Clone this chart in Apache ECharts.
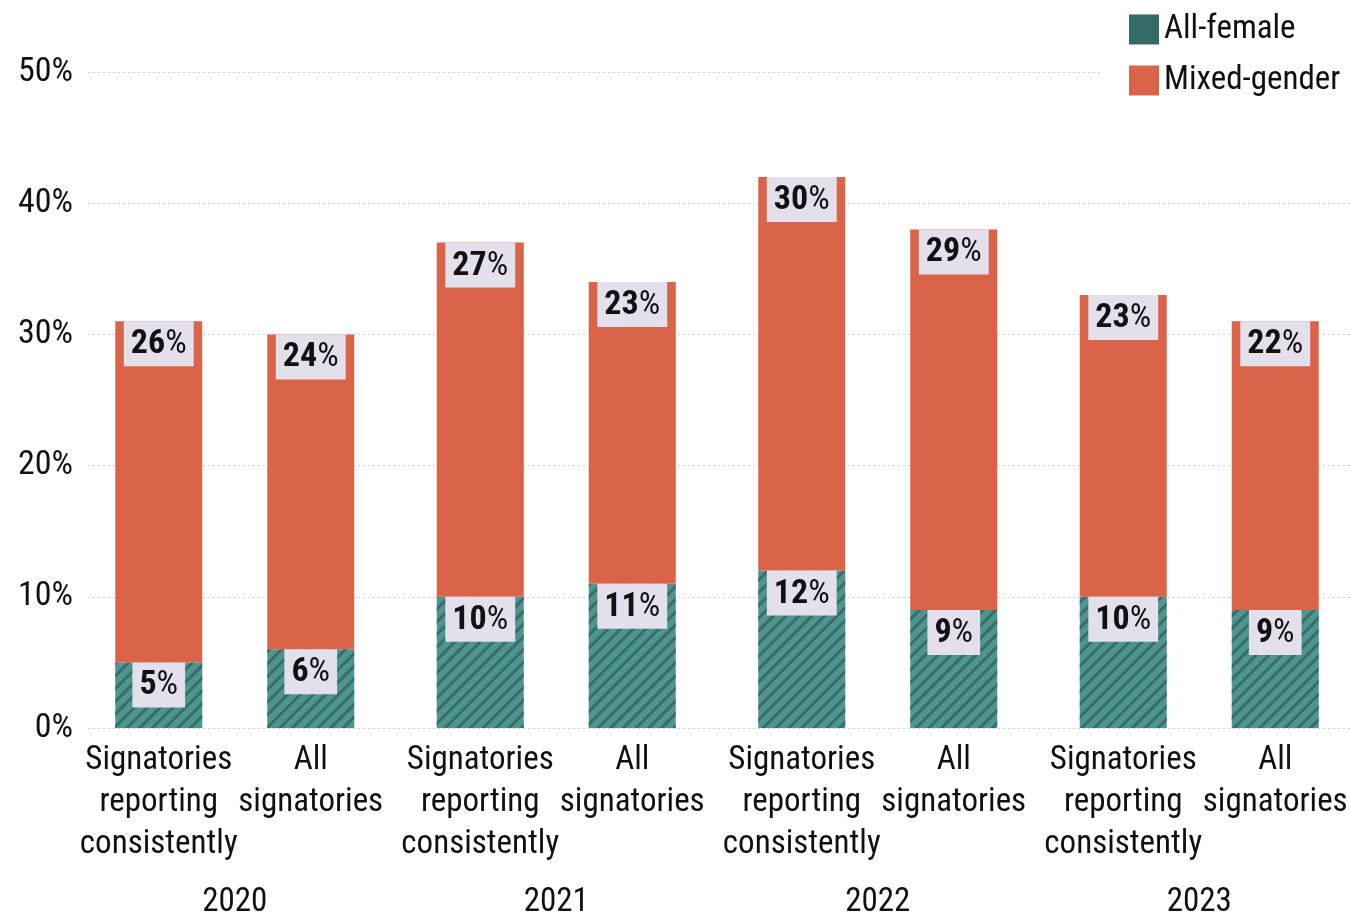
<!DOCTYPE html>
<html>
<head>
<meta charset="utf-8">
<script src="https://cdn.jsdelivr.net/npm/echarts@6/dist/echarts.min.js"></script>
<style>
  html, body { margin: 0; padding: 0; background: #fff; }
  #chart { width: 1350px; height: 915px; }
</style>
</head>
<body>
<div id="chart"></div>
<script>
// Share of signatories (%) by year and reporting group
const years = ['2020', '2021', '2022', '2023'];
const groupLabels = ['Signatories\nreporting\nconsistently', 'All\nsignatories'];
const femaleConsistent = [5, 10, 12, 10];
const mixedConsistent = [26, 27, 30, 23];
const femaleAll = [6, 11, 9, 9];
const mixedAll = [24, 23, 29, 22];
const yTicks = [0, 10, 20, 30, 40, 50];

const FONT = "'Liberation Sans Narrow', 'Arial Narrow', 'Roboto Condensed', Roboto, sans-serif";
const ORANGE = '#da644a';
const TEAL = '#4c9690';
const TEAL_DARK = '#356b66';
const STRIPE = '#3d6c68';

// diagonal "/" stripes over the all-female segments
const hatch = {
  symbol: 'rect',
  color: STRIPE,
  dashArrayX: [1, 0],
  dashArrayY: [3, 6],
  rotation: -Math.PI / 4
};

const valueLabel = {
  show: true,
  position: 'insideTop',
  distance: 0,
  backgroundColor: '#e3e0ec',
  padding: [5, 7, 3, 7],
  color: '#111',
  fontFamily: FONT,
  formatter: p => `{b|${p.value}}{p|%}`,
  rich: {
    b: { fontWeight: 'bold', fontSize: 34, fontFamily: FONT, color: '#111', lineHeight: 37 },
    p: { fontSize: 34, fontFamily: FONT, color: '#111', lineHeight: 37 }
  }
};

function groupLabelSeries(stack, text) {
  return {
    name: 'label-' + stack,
    type: 'bar',
    stack: stack,
    xAxisIndex: 1,
    yAxisIndex: 1,
    barWidth: 87,
    barGap: '74.7%',
    silent: true,
    itemStyle: { color: 'transparent' },
    data: years.map(() => 0),
    label: {
      show: true,
      position: 'bottom',
      distance: 12,
      formatter: text,
      fontFamily: FONT,
      fontSize: 33,
      lineHeight: 42,
      color: '#111',
      align: 'center'
    }
  };
}

function stackSeries(name, stack, values, style) {
  return {
    name: name,
    type: 'bar',
    stack: stack,
    xAxisIndex: 1,
    yAxisIndex: 1,
    barWidth: 87,
    barGap: '74.7%',
    itemStyle: style,
    label: valueLabel,
    data: values
  };
}

const chart = echarts.init(document.getElementById('chart'), null, { renderer: 'canvas' });

chart.setOption({
  animation: false,
  backgroundColor: '#fff',
  textStyle: { fontFamily: FONT },
  grid: [
    { left: 88, right: 0, top: 72, bottom: 187, outerBoundsMode: 'none' },
    { left: 74, width: 1286, top: 72, bottom: 187, outerBoundsMode: 'none' }
  ],
  legend: {
    orient: 'vertical',
    left: 1100,
    top: 8,
    padding: [5, 10, 5, 29],
    backgroundColor: '#fff',
    itemWidth: 30,
    itemHeight: 30,
    itemGap: 18,
    textStyle: { fontFamily: FONT, fontSize: 33, color: '#111' },
    data: [
      { name: 'All-female', icon: 'rect', itemStyle: { color: TEAL_DARK, decal: 'none' } },
      { name: 'Mixed-gender', icon: 'rect', itemStyle: { color: ORANGE } }
    ]
  },
  xAxis: [
    {
      gridIndex: 0, type: 'category', data: years, show: false
    },
    {
      gridIndex: 1,
      type: 'category',
      data: years,
      axisLine: { show: false },
      axisTick: { show: false },
      axisLabel: {
        margin: 158,
        fontFamily: FONT,
        fontSize: 33,
        color: '#111'
      }
    }
  ],
  yAxis: [
    {
      gridIndex: 0,
      type: 'value',
      min: yTicks[0],
      max: yTicks[yTicks.length - 1],
      interval: 10,
      axisLine: { show: false },
      axisTick: { show: false },
      axisLabel: {
        margin: 15,
        fontFamily: FONT,
        fontSize: 34,
        color: '#111',
        formatter: v => v + '%'
      },
      splitLine: { lineStyle: { color: '#cfcfcf', type: [2, 3], width: 1 } }
    },
    {
      gridIndex: 1,
      type: 'value',
      min: yTicks[0],
      max: yTicks[yTicks.length - 1],
      interval: 10,
      show: false,
      splitLine: { show: false }
    }
  ],
  series: [
    groupLabelSeries('A', groupLabels[0]),
    stackSeries('All-female', 'A', femaleConsistent, { color: TEAL, decal: hatch }),
    stackSeries('Mixed-gender', 'A', mixedConsistent, { color: ORANGE }),
    groupLabelSeries('B', groupLabels[1]),
    stackSeries('All-female', 'B', femaleAll, { color: TEAL, decal: hatch }),
    stackSeries('Mixed-gender', 'B', mixedAll, { color: ORANGE })
  ]
});
</script>
</body>
</html>
